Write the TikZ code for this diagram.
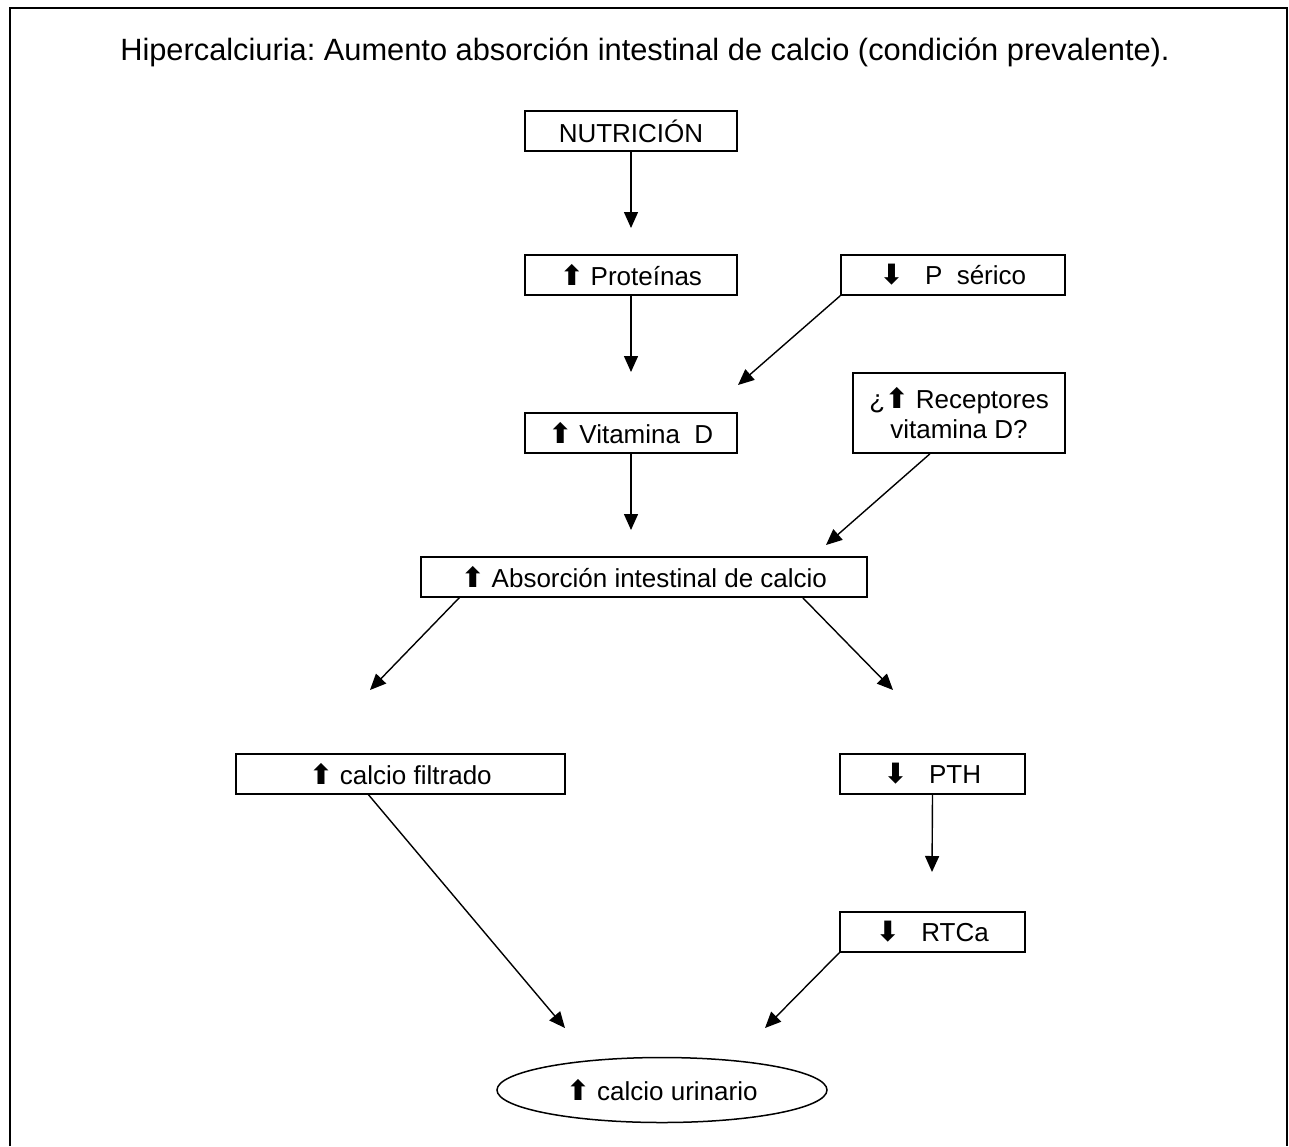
\documentclass[tikz,border=0pt]{standalone}
\usepackage{fontspec}
\setmainfont{Liberation Sans}
\newfontfamily\symfont{DejaVu Sans}
\usetikzlibrary{shapes.geometric,arrows.meta}
\newcommand{\upa}{{\symfont\bfseries\fontsize{14}{14}\selectfont ⬆}}
\newcommand{\dna}{{\symfont\bfseries\fontsize{14}{14}\selectfont ⬇}}
\frenchspacing
\begin{document}
\begin{tikzpicture}[x=0.5pt,y=-0.5pt,
  box/.style={draw,line width=0.75pt,inner sep=0pt,minimum height=20pt,font=\fontsize{13}{15}\selectfont,align=center},
  conn/.style={line width=0.7pt,-{Triangle[length=8pt,width=7pt]}},
  frame/.style={line width=1pt}]
\useasboundingbox (0,0) rectangle (1289,1146);
\draw[frame] (10,1146) -- (10,8) -- (1287,8) -- (1287,1146);
\node[font=\fontsize{15.4}{18}\selectfont] (title) at (645,52) {Hipercalciuria: Aumento absorción intestinal de calcio (condición prevalente).};
\node[box,minimum width=106pt] (nut) at (631,131) {NUTRICIÓN};
\node[box,minimum width=106pt] (prot) at (631,275) {\upa\ Proteínas};
\node[box,minimum width=112pt] (psr) at (953,275) {\dna\ \ \ P\ \ sérico};
\node[box,minimum width=106pt] (vit) at (631,433) {\upa\ Vitamina\ \ D};
\node[box,minimum width=106pt,minimum height=40pt] (rec) at (959,413) {¿\upa\ Receptores\\vitamina D?};
\node[box,minimum width=223pt] (abs) at (644,577) {\upa\ Absorción intestinal de calcio};
\node[box,minimum width=164.5pt] (fil) at (400.5,774) {\upa\ calcio filtrado};
\node[box,minimum width=92.5pt] (pth) at (932.5,774) {\dna\ \ \ PTH};
\node[box,minimum width=92.5pt] (rtc) at (932.5,932) {\dna\ \ \ RTCa};
\node[draw,ellipse,line width=0.75pt,minimum width=165pt,minimum height=32.5pt,inner sep=0pt,font=\fontsize{13}{15}\selectfont] (uri) at (662,1090) {\upa\ calcio urinario};
\coordinate (t1) at (631,228);
\coordinate (t2) at (631,372);
\coordinate (t3) at (738,385);
\coordinate (t4) at (631,530);
\coordinate (t5) at (826,545);
\coordinate (t6) at (370,690);
\coordinate (t7) at (893,690);
\coordinate (t8) at (565,1028);
\coordinate (t9) at (932,872);
\coordinate (t10) at (765,1028);
\draw[conn] (nut.south) -- (t1);
\draw[conn] (prot.south) -- (t2);
\draw[conn] (psr.south west) -- (t3);
\draw[conn] (vit.south) -- (t4);
\draw[conn] (rec.south) ++(-29,0) -- (t5);
\draw[conn] (abs.south west) ++(39,0) -- (t6);
\draw[conn] (abs.south east) ++(-65,0) -- (t7);
\draw[conn] (fil.south) ++(-32,0) -- (t8);
\draw[conn] (pth.south) -- (t9);
\draw[conn] (rtc.south west) -- (t10);
\end{tikzpicture}
\end{document}
